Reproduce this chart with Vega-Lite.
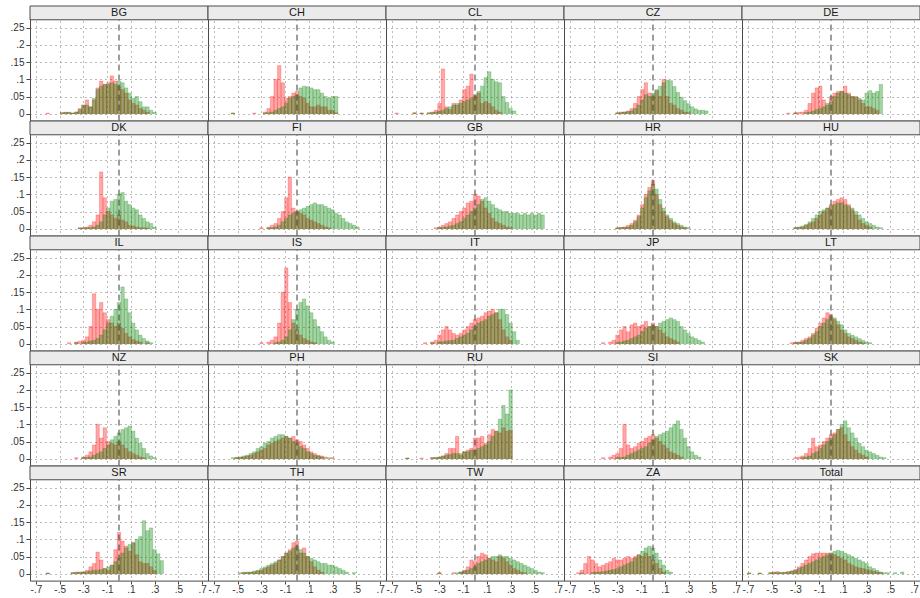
{
"$schema": "https://vega.github.io/schema/vega-lite/v6.json",
"padding": {"left": 5, "top": 5, "right": 0, "bottom": 0},
"bounds": "flush",
"data": {"values": [
{"c":"BG","x":-0.6,"r":0.002},
{"c":"BG","x":-0.48,"r":0.003,"g":0.003},
{"c":"BG","x":-0.45,"r":0.004,"g":0.004},
{"c":"BG","x":-0.42,"r":0.004,"g":0.004},
{"c":"BG","x":-0.39,"r":0.002,"g":0.002},
{"c":"BG","x":-0.36,"r":0.005,"g":0.005},
{"c":"BG","x":-0.33,"r":0.015,"g":0.012},
{"c":"BG","x":-0.3,"r":0.025,"g":0.025},
{"c":"BG","x":-0.27,"r":0.04,"g":0.025},
{"c":"BG","x":-0.24,"r":0.02,"g":0.02},
{"c":"BG","x":-0.21,"r":0.04,"g":0.045},
{"c":"BG","x":-0.18,"r":0.075,"g":0.07},
{"c":"BG","x":-0.15,"r":0.095,"g":0.08},
{"c":"BG","x":-0.12,"r":0.085,"g":0.085},
{"c":"BG","x":-0.09,"r":0.09,"g":0.085},
{"c":"BG","x":-0.06,"r":0.11,"g":0.09},
{"c":"BG","x":-0.03,"r":0.095,"g":0.085},
{"c":"BG","x":0,"r":0.08,"g":0.095},
{"c":"BG","x":0.03,"r":0.07,"g":0.09},
{"c":"BG","x":0.06,"r":0.06,"g":0.075},
{"c":"BG","x":0.09,"r":0.04,"g":0.06},
{"c":"BG","x":0.12,"r":0.03,"g":0.045},
{"c":"BG","x":0.15,"r":0.025,"g":0.05},
{"c":"BG","x":0.18,"r":0.015,"g":0.035},
{"c":"BG","x":0.21,"r":0.01,"g":0.02},
{"c":"BG","x":0.24,"r":0.005,"g":0.02},
{"c":"BG","x":0.27,"g":0.01},
{"c":"BG","x":0.3,"g":0.004},
{"c":"CH","x":-0.54,"r":0.002,"g":0.002},
{"c":"CH","x":-0.36,"r":0.002},
{"c":"CH","x":-0.27,"r":0.005,"g":0.002},
{"c":"CH","x":-0.24,"r":0.015,"g":0.003},
{"c":"CH","x":-0.21,"r":0.05,"g":0.005},
{"c":"CH","x":-0.18,"r":0.1,"g":0.01},
{"c":"CH","x":-0.15,"r":0.14,"g":0.015},
{"c":"CH","x":-0.12,"r":0.09,"g":0.02},
{"c":"CH","x":-0.09,"r":0.045,"g":0.03},
{"c":"CH","x":-0.06,"r":0.05,"g":0.045},
{"c":"CH","x":-0.03,"r":0.06,"g":0.05},
{"c":"CH","x":0,"r":0.065,"g":0.055},
{"c":"CH","x":0.03,"r":0.05,"g":0.075},
{"c":"CH","x":0.06,"r":0.045,"g":0.08},
{"c":"CH","x":0.09,"r":0.03,"g":0.078},
{"c":"CH","x":0.12,"r":0.02,"g":0.075},
{"c":"CH","x":0.15,"r":0.02,"g":0.07},
{"c":"CH","x":0.18,"r":0.025,"g":0.07},
{"c":"CH","x":0.21,"r":0.02,"g":0.06},
{"c":"CH","x":0.24,"r":0.02,"g":0.05},
{"c":"CH","x":0.27,"r":0.01,"g":0.045},
{"c":"CH","x":0.3,"r":0.01,"g":0.05},
{"c":"CH","x":0.33,"r":0.003,"g":0.05},
{"c":"CL","x":-0.66,"r":0.002},
{"c":"CL","x":-0.51,"r":0.003,"g":0.002},
{"c":"CL","x":-0.45,"r":0.002,"g":0.002},
{"c":"CL","x":-0.39,"r":0.002,"g":0.003},
{"c":"CL","x":-0.36,"r":0.005,"g":0.003},
{"c":"CL","x":-0.33,"r":0.01,"g":0.005},
{"c":"CL","x":-0.3,"r":0.03,"g":0.007},
{"c":"CL","x":-0.27,"r":0.13,"g":0.01},
{"c":"CL","x":-0.24,"r":0.02,"g":0.015},
{"c":"CL","x":-0.21,"r":0.012,"g":0.02},
{"c":"CL","x":-0.18,"r":0.03,"g":0.025},
{"c":"CL","x":-0.15,"r":0.025,"g":0.03},
{"c":"CL","x":-0.12,"r":0.04,"g":0.03},
{"c":"CL","x":-0.09,"r":0.07,"g":0.035},
{"c":"CL","x":-0.06,"r":0.08,"g":0.04},
{"c":"CL","x":-0.03,"r":0.115,"g":0.045},
{"c":"CL","x":0,"r":0.05,"g":0.055},
{"c":"CL","x":0.03,"r":0.06,"g":0.065},
{"c":"CL","x":0.06,"r":0.03,"g":0.08},
{"c":"CL","x":0.09,"r":0.035,"g":0.105},
{"c":"CL","x":0.12,"r":0.03,"g":0.122},
{"c":"CL","x":0.15,"r":0.02,"g":0.1},
{"c":"CL","x":0.18,"r":0.01,"g":0.093},
{"c":"CL","x":0.21,"r":0.005,"g":0.09},
{"c":"CL","x":0.24,"g":0.05},
{"c":"CL","x":0.27,"g":0.033},
{"c":"CL","x":0.3,"g":0.015},
{"c":"CL","x":0.33,"g":0.008},
{"c":"CZ","x":-0.3,"r":0.003,"g":0.002},
{"c":"CZ","x":-0.27,"r":0.005,"g":0.003},
{"c":"CZ","x":-0.24,"r":0.005,"g":0.005},
{"c":"CZ","x":-0.21,"r":0.008,"g":0.006},
{"c":"CZ","x":-0.18,"r":0.015,"g":0.008},
{"c":"CZ","x":-0.15,"r":0.03,"g":0.015},
{"c":"CZ","x":-0.12,"r":0.05,"g":0.025},
{"c":"CZ","x":-0.09,"r":0.07,"g":0.04},
{"c":"CZ","x":-0.06,"r":0.09,"g":0.055},
{"c":"CZ","x":-0.03,"r":0.06,"g":0.05},
{"c":"CZ","x":0,"r":0.05,"g":0.06},
{"c":"CZ","x":0.03,"r":0.067,"g":0.07},
{"c":"CZ","x":0.06,"r":0.05,"g":0.08},
{"c":"CZ","x":0.09,"r":0.1,"g":0.09},
{"c":"CZ","x":0.12,"r":0.05,"g":0.098},
{"c":"CZ","x":0.15,"r":0.03,"g":0.096},
{"c":"CZ","x":0.18,"r":0.025,"g":0.079},
{"c":"CZ","x":0.21,"r":0.015,"g":0.062},
{"c":"CZ","x":0.24,"r":0.01,"g":0.048},
{"c":"CZ","x":0.27,"r":0.005,"g":0.038},
{"c":"CZ","x":0.3,"r":0.003,"g":0.029},
{"c":"CZ","x":0.33,"g":0.02},
{"c":"CZ","x":0.36,"g":0.014},
{"c":"CZ","x":0.39,"g":0.01},
{"c":"CZ","x":0.42,"g":0.01},
{"c":"CZ","x":0.45,"g":0.008},
{"c":"DE","x":-0.36,"r":0.002},
{"c":"DE","x":-0.3,"r":0.003,"g":0.002},
{"c":"DE","x":-0.27,"r":0.004},
{"c":"DE","x":-0.24,"r":0.005},
{"c":"DE","x":-0.21,"r":0.01,"g":0.003},
{"c":"DE","x":-0.18,"r":0.03,"g":0.005},
{"c":"DE","x":-0.15,"r":0.06,"g":0.008},
{"c":"DE","x":-0.12,"r":0.075,"g":0.012},
{"c":"DE","x":-0.09,"r":0.08,"g":0.015},
{"c":"DE","x":-0.06,"r":0.04,"g":0.02},
{"c":"DE","x":-0.03,"r":0.025,"g":0.03},
{"c":"DE","x":0,"r":0.05,"g":0.035},
{"c":"DE","x":0.03,"r":0.06,"g":0.05},
{"c":"DE","x":0.06,"r":0.065,"g":0.06},
{"c":"DE","x":0.09,"r":0.065,"g":0.065},
{"c":"DE","x":0.12,"r":0.08,"g":0.06},
{"c":"DE","x":0.15,"r":0.06,"g":0.055},
{"c":"DE","x":0.18,"r":0.05,"g":0.05},
{"c":"DE","x":0.21,"r":0.05,"g":0.048},
{"c":"DE","x":0.24,"r":0.04,"g":0.045},
{"c":"DE","x":0.27,"r":0.03,"g":0.04},
{"c":"DE","x":0.3,"r":0.02,"g":0.06},
{"c":"DE","x":0.33,"r":0.02,"g":0.067},
{"c":"DE","x":0.36,"r":0.015,"g":0.06},
{"c":"DE","x":0.39,"r":0.01,"g":0.065},
{"c":"DE","x":0.42,"g":0.085},
{"c":"DK","x":-0.33,"r":0.003,"g":0.002},
{"c":"DK","x":-0.3,"r":0.003,"g":0.002},
{"c":"DK","x":-0.27,"r":0.005,"g":0.003},
{"c":"DK","x":-0.24,"r":0.01,"g":0.003},
{"c":"DK","x":-0.21,"r":0.02,"g":0.005},
{"c":"DK","x":-0.18,"r":0.04,"g":0.01},
{"c":"DK","x":-0.15,"r":0.165,"g":0.02},
{"c":"DK","x":-0.12,"r":0.09,"g":0.04},
{"c":"DK","x":-0.09,"r":0.05,"g":0.06},
{"c":"DK","x":-0.06,"r":0.04,"g":0.08},
{"c":"DK","x":-0.03,"r":0.03,"g":0.085},
{"c":"DK","x":0,"r":0.04,"g":0.1},
{"c":"DK","x":0.03,"r":0.025,"g":0.105},
{"c":"DK","x":0.06,"r":0.02,"g":0.08},
{"c":"DK","x":0.09,"r":0.01,"g":0.07},
{"c":"DK","x":0.12,"r":0.008,"g":0.06},
{"c":"DK","x":0.15,"r":0.005,"g":0.055},
{"c":"DK","x":0.18,"r":0.003,"g":0.04},
{"c":"DK","x":0.21,"r":0.003,"g":0.03},
{"c":"DK","x":0.24,"r":0.002,"g":0.02},
{"c":"DK","x":0.27,"g":0.015},
{"c":"DK","x":0.3,"g":0.005},
{"c":"FI","x":-0.3,"r":0.003},
{"c":"FI","x":-0.24,"r":0.005,"g":0.002},
{"c":"FI","x":-0.21,"r":0.01,"g":0.003},
{"c":"FI","x":-0.18,"r":0.015,"g":0.005},
{"c":"FI","x":-0.15,"r":0.03,"g":0.01},
{"c":"FI","x":-0.12,"r":0.05,"g":0.02},
{"c":"FI","x":-0.09,"r":0.09,"g":0.03},
{"c":"FI","x":-0.06,"r":0.15,"g":0.04},
{"c":"FI","x":-0.03,"r":0.06,"g":0.045},
{"c":"FI","x":0,"r":0.05,"g":0.05},
{"c":"FI","x":0.03,"r":0.045,"g":0.055},
{"c":"FI","x":0.06,"r":0.04,"g":0.06},
{"c":"FI","x":0.09,"r":0.03,"g":0.065},
{"c":"FI","x":0.12,"r":0.025,"g":0.07},
{"c":"FI","x":0.15,"r":0.02,"g":0.075},
{"c":"FI","x":0.18,"r":0.015,"g":0.07},
{"c":"FI","x":0.21,"r":0.01,"g":0.07},
{"c":"FI","x":0.24,"r":0.005,"g":0.065},
{"c":"FI","x":0.27,"r":0.003,"g":0.06},
{"c":"FI","x":0.3,"g":0.055},
{"c":"FI","x":0.33,"g":0.045},
{"c":"FI","x":0.36,"g":0.04},
{"c":"FI","x":0.39,"g":0.03},
{"c":"FI","x":0.42,"g":0.02},
{"c":"FI","x":0.45,"g":0.015},
{"c":"FI","x":0.48,"g":0.01},
{"c":"FI","x":0.51,"g":0.005},
{"c":"GB","x":-0.33,"r":0.003},
{"c":"GB","x":-0.3,"r":0.005,"g":0.003},
{"c":"GB","x":-0.27,"r":0.01,"g":0.004},
{"c":"GB","x":-0.24,"r":0.015,"g":0.005},
{"c":"GB","x":-0.21,"r":0.02,"g":0.008},
{"c":"GB","x":-0.18,"r":0.03,"g":0.01},
{"c":"GB","x":-0.15,"r":0.04,"g":0.015},
{"c":"GB","x":-0.12,"r":0.05,"g":0.02},
{"c":"GB","x":-0.09,"r":0.06,"g":0.03},
{"c":"GB","x":-0.06,"r":0.075,"g":0.04},
{"c":"GB","x":-0.03,"r":0.08,"g":0.05},
{"c":"GB","x":0,"r":0.1,"g":0.06},
{"c":"GB","x":0.03,"r":0.095,"g":0.07},
{"c":"GB","x":0.06,"r":0.08,"g":0.085},
{"c":"GB","x":0.09,"r":0.06,"g":0.09},
{"c":"GB","x":0.12,"r":0.045,"g":0.08},
{"c":"GB","x":0.15,"r":0.03,"g":0.07},
{"c":"GB","x":0.18,"r":0.02,"g":0.06},
{"c":"GB","x":0.21,"r":0.015,"g":0.055},
{"c":"GB","x":0.24,"r":0.01,"g":0.05},
{"c":"GB","x":0.27,"r":0.005,"g":0.05},
{"c":"GB","x":0.3,"r":0.003,"g":0.045},
{"c":"GB","x":0.33,"g":0.045},
{"c":"GB","x":0.36,"g":0.045},
{"c":"GB","x":0.39,"g":0.04},
{"c":"GB","x":0.42,"g":0.045},
{"c":"GB","x":0.45,"g":0.04},
{"c":"GB","x":0.48,"g":0.045},
{"c":"GB","x":0.51,"g":0.04},
{"c":"GB","x":0.54,"g":0.045},
{"c":"GB","x":0.57,"g":0.04},
{"c":"HR","x":-0.3,"r":0.003,"g":0.002},
{"c":"HR","x":-0.27,"r":0.004,"g":0.003},
{"c":"HR","x":-0.24,"r":0.005,"g":0.004},
{"c":"HR","x":-0.21,"r":0.01,"g":0.005},
{"c":"HR","x":-0.18,"r":0.015,"g":0.01},
{"c":"HR","x":-0.15,"r":0.025,"g":0.02},
{"c":"HR","x":-0.12,"r":0.04,"g":0.035},
{"c":"HR","x":-0.09,"r":0.07,"g":0.06},
{"c":"HR","x":-0.06,"r":0.1,"g":0.09},
{"c":"HR","x":-0.03,"r":0.12,"g":0.11},
{"c":"HR","x":0,"r":0.14,"g":0.13},
{"c":"HR","x":0.03,"r":0.1,"g":0.115},
{"c":"HR","x":0.06,"r":0.07,"g":0.085},
{"c":"HR","x":0.09,"r":0.05,"g":0.06},
{"c":"HR","x":0.12,"r":0.035,"g":0.04},
{"c":"HR","x":0.15,"r":0.025,"g":0.03},
{"c":"HR","x":0.18,"r":0.015,"g":0.02},
{"c":"HR","x":0.21,"r":0.01,"g":0.015},
{"c":"HR","x":0.24,"r":0.005,"g":0.01},
{"c":"HR","x":0.27,"r":0.003,"g":0.005},
{"c":"HR","x":0.3,"g":0.003},
{"c":"HU","x":-0.3,"r":0.003,"g":0.003},
{"c":"HU","x":-0.27,"r":0.004,"g":0.005},
{"c":"HU","x":-0.24,"r":0.005,"g":0.008},
{"c":"HU","x":-0.21,"r":0.01,"g":0.012},
{"c":"HU","x":-0.18,"r":0.015,"g":0.02},
{"c":"HU","x":-0.15,"r":0.02,"g":0.03},
{"c":"HU","x":-0.12,"r":0.03,"g":0.04},
{"c":"HU","x":-0.09,"r":0.04,"g":0.05},
{"c":"HU","x":-0.06,"r":0.05,"g":0.055},
{"c":"HU","x":-0.03,"r":0.06,"g":0.06},
{"c":"HU","x":0,"r":0.07,"g":0.065},
{"c":"HU","x":0.03,"r":0.08,"g":0.07},
{"c":"HU","x":0.06,"r":0.085,"g":0.075},
{"c":"HU","x":0.09,"r":0.09,"g":0.075},
{"c":"HU","x":0.12,"r":0.085,"g":0.07},
{"c":"HU","x":0.15,"r":0.07,"g":0.065},
{"c":"HU","x":0.18,"r":0.055,"g":0.06},
{"c":"HU","x":0.21,"r":0.04,"g":0.05},
{"c":"HU","x":0.24,"r":0.025,"g":0.04},
{"c":"HU","x":0.27,"r":0.015,"g":0.03},
{"c":"HU","x":0.3,"r":0.01,"g":0.02},
{"c":"HU","x":0.33,"r":0.005,"g":0.015},
{"c":"HU","x":0.36,"g":0.01},
{"c":"HU","x":0.39,"g":0.005},
{"c":"HU","x":0.42,"g":0.003},
{"c":"IL","x":-0.42,"r":0.003},
{"c":"IL","x":-0.36,"r":0.005,"g":0.003},
{"c":"IL","x":-0.33,"r":0.007},
{"c":"IL","x":-0.3,"r":0.01,"g":0.004},
{"c":"IL","x":-0.27,"r":0.02,"g":0.005},
{"c":"IL","x":-0.24,"r":0.05,"g":0.008},
{"c":"IL","x":-0.21,"r":0.145,"g":0.01},
{"c":"IL","x":-0.18,"r":0.1,"g":0.015},
{"c":"IL","x":-0.15,"r":0.12,"g":0.025},
{"c":"IL","x":-0.12,"r":0.09,"g":0.04},
{"c":"IL","x":-0.09,"r":0.07,"g":0.06},
{"c":"IL","x":-0.06,"r":0.06,"g":0.08},
{"c":"IL","x":-0.03,"r":0.05,"g":0.1},
{"c":"IL","x":0,"r":0.06,"g":0.12},
{"c":"IL","x":0.03,"r":0.045,"g":0.165},
{"c":"IL","x":0.06,"r":0.03,"g":0.13},
{"c":"IL","x":0.09,"r":0.02,"g":0.09},
{"c":"IL","x":0.12,"r":0.012,"g":0.06},
{"c":"IL","x":0.15,"r":0.008,"g":0.04},
{"c":"IL","x":0.18,"r":0.005,"g":0.025},
{"c":"IL","x":0.21,"g":0.015},
{"c":"IL","x":0.24,"r":0.003,"g":0.008},
{"c":"IL","x":0.27,"g":0.003},
{"c":"IS","x":-0.3,"r":0.003},
{"c":"IS","x":-0.24,"r":0.005},
{"c":"IS","x":-0.21,"r":0.01},
{"c":"IS","x":-0.18,"r":0.02,"g":0.003},
{"c":"IS","x":-0.15,"r":0.06,"g":0.005},
{"c":"IS","x":-0.12,"r":0.15,"g":0.01},
{"c":"IS","x":-0.09,"r":0.22,"g":0.02},
{"c":"IS","x":-0.06,"r":0.12,"g":0.04},
{"c":"IS","x":-0.03,"r":0.06,"g":0.07},
{"c":"IS","x":0,"r":0.04,"g":0.1},
{"c":"IS","x":0.03,"r":0.025,"g":0.12},
{"c":"IS","x":0.06,"r":0.015,"g":0.13},
{"c":"IS","x":0.09,"r":0.01,"g":0.11},
{"c":"IS","x":0.12,"r":0.005,"g":0.09},
{"c":"IS","x":0.15,"r":0.003,"g":0.07},
{"c":"IS","x":0.18,"g":0.05},
{"c":"IS","x":0.21,"g":0.035},
{"c":"IS","x":0.24,"g":0.02},
{"c":"IS","x":0.27,"g":0.01},
{"c":"IS","x":0.3,"g":0.005},
{"c":"IT","x":-0.42,"r":0.003},
{"c":"IT","x":-0.36,"r":0.005,"g":0.003},
{"c":"IT","x":-0.33,"r":0.01},
{"c":"IT","x":-0.3,"r":0.025,"g":0.005},
{"c":"IT","x":-0.27,"r":0.04,"g":0.006},
{"c":"IT","x":-0.24,"r":0.05,"g":0.008},
{"c":"IT","x":-0.21,"r":0.04,"g":0.009},
{"c":"IT","x":-0.18,"r":0.03,"g":0.01},
{"c":"IT","x":-0.15,"r":0.025,"g":0.015},
{"c":"IT","x":-0.12,"r":0.03,"g":0.02},
{"c":"IT","x":-0.09,"r":0.04,"g":0.025},
{"c":"IT","x":-0.06,"r":0.05,"g":0.03},
{"c":"IT","x":-0.03,"r":0.06,"g":0.04},
{"c":"IT","x":0,"r":0.07,"g":0.05},
{"c":"IT","x":0.03,"r":0.075,"g":0.06},
{"c":"IT","x":0.06,"r":0.08,"g":0.065},
{"c":"IT","x":0.09,"r":0.09,"g":0.07},
{"c":"IT","x":0.12,"r":0.095,"g":0.08},
{"c":"IT","x":0.15,"r":0.1,"g":0.085},
{"c":"IT","x":0.18,"r":0.09,"g":0.09},
{"c":"IT","x":0.21,"r":0.07,"g":0.1},
{"c":"IT","x":0.24,"r":0.04,"g":0.1},
{"c":"IT","x":0.27,"r":0.02,"g":0.085},
{"c":"IT","x":0.3,"r":0.01,"g":0.06},
{"c":"IT","x":0.33,"g":0.035},
{"c":"IT","x":0.36,"g":0.01},
{"c":"JP","x":-0.42,"r":0.003},
{"c":"JP","x":-0.36,"r":0.005},
{"c":"JP","x":-0.33,"r":0.01},
{"c":"JP","x":-0.3,"r":0.025,"g":0.003},
{"c":"JP","x":-0.27,"r":0.04,"g":0.005},
{"c":"JP","x":-0.24,"r":0.05,"g":0.008},
{"c":"JP","x":-0.21,"r":0.035,"g":0.01},
{"c":"JP","x":-0.18,"r":0.055,"g":0.015},
{"c":"JP","x":-0.15,"r":0.06,"g":0.02},
{"c":"JP","x":-0.12,"r":0.05,"g":0.025},
{"c":"JP","x":-0.09,"r":0.055,"g":0.035},
{"c":"JP","x":-0.06,"r":0.065,"g":0.045},
{"c":"JP","x":-0.03,"r":0.05,"g":0.05},
{"c":"JP","x":0,"r":0.06,"g":0.055},
{"c":"JP","x":0.03,"r":0.05,"g":0.05},
{"c":"JP","x":0.06,"r":0.04,"g":0.06},
{"c":"JP","x":0.09,"r":0.03,"g":0.065},
{"c":"JP","x":0.12,"r":0.02,"g":0.07},
{"c":"JP","x":0.15,"r":0.015,"g":0.075},
{"c":"JP","x":0.18,"r":0.01,"g":0.07},
{"c":"JP","x":0.21,"r":0.005,"g":0.065},
{"c":"JP","x":0.24,"g":0.05},
{"c":"JP","x":0.27,"g":0.04},
{"c":"JP","x":0.3,"g":0.03},
{"c":"JP","x":0.33,"g":0.02},
{"c":"JP","x":0.36,"g":0.015},
{"c":"JP","x":0.39,"g":0.01},
{"c":"JP","x":0.42,"g":0.005},
{"c":"LT","x":-0.33,"r":0.003},
{"c":"LT","x":-0.3,"r":0.004,"g":0.003},
{"c":"LT","x":-0.27,"r":0.005,"g":0.004},
{"c":"LT","x":-0.24,"r":0.01,"g":0.005},
{"c":"LT","x":-0.21,"r":0.015,"g":0.01},
{"c":"LT","x":-0.18,"r":0.02,"g":0.015},
{"c":"LT","x":-0.15,"r":0.03,"g":0.025},
{"c":"LT","x":-0.12,"r":0.045,"g":0.035},
{"c":"LT","x":-0.09,"r":0.06,"g":0.05},
{"c":"LT","x":-0.06,"r":0.075,"g":0.06},
{"c":"LT","x":-0.03,"r":0.09,"g":0.07},
{"c":"LT","x":0,"r":0.085,"g":0.08},
{"c":"LT","x":0.03,"r":0.07,"g":0.075},
{"c":"LT","x":0.06,"r":0.055,"g":0.065},
{"c":"LT","x":0.09,"r":0.04,"g":0.055},
{"c":"LT","x":0.12,"r":0.03,"g":0.04},
{"c":"LT","x":0.15,"r":0.02,"g":0.03},
{"c":"LT","x":0.18,"r":0.015,"g":0.025},
{"c":"LT","x":0.21,"r":0.01,"g":0.02},
{"c":"LT","x":0.24,"r":0.005,"g":0.015},
{"c":"LT","x":0.27,"r":0.003,"g":0.01},
{"c":"LT","x":0.3,"g":0.005},
{"c":"LT","x":0.33,"g":0.003},
{"c":"NZ","x":-0.36,"r":0.003},
{"c":"NZ","x":-0.3,"r":0.005,"g":0.003},
{"c":"NZ","x":-0.27,"r":0.01,"g":0.004},
{"c":"NZ","x":-0.24,"r":0.02,"g":0.005},
{"c":"NZ","x":-0.21,"r":0.04,"g":0.01},
{"c":"NZ","x":-0.18,"r":0.1,"g":0.015},
{"c":"NZ","x":-0.15,"r":0.06,"g":0.02},
{"c":"NZ","x":-0.12,"r":0.09,"g":0.03},
{"c":"NZ","x":-0.09,"r":0.05,"g":0.04},
{"c":"NZ","x":-0.06,"r":0.045,"g":0.055},
{"c":"NZ","x":-0.03,"r":0.04,"g":0.065},
{"c":"NZ","x":0,"r":0.05,"g":0.075},
{"c":"NZ","x":0.03,"r":0.04,"g":0.085},
{"c":"NZ","x":0.06,"r":0.03,"g":0.09},
{"c":"NZ","x":0.09,"r":0.02,"g":0.095},
{"c":"NZ","x":0.12,"r":0.015,"g":0.08},
{"c":"NZ","x":0.15,"r":0.01,"g":0.06},
{"c":"NZ","x":0.18,"r":0.005,"g":0.045},
{"c":"NZ","x":0.21,"r":0.003,"g":0.03},
{"c":"NZ","x":0.24,"g":0.015},
{"c":"NZ","x":0.27,"g":0.008},
{"c":"NZ","x":0.3,"g":0.003},
{"c":"PH","x":-0.54,"g":0.003},
{"c":"PH","x":-0.51,"r":0.003,"g":0.004},
{"c":"PH","x":-0.48,"r":0.004,"g":0.005},
{"c":"PH","x":-0.45,"r":0.005,"g":0.008},
{"c":"PH","x":-0.42,"r":0.008,"g":0.01},
{"c":"PH","x":-0.39,"r":0.01,"g":0.015},
{"c":"PH","x":-0.36,"r":0.015,"g":0.02},
{"c":"PH","x":-0.33,"r":0.02,"g":0.03},
{"c":"PH","x":-0.3,"r":0.025,"g":0.035},
{"c":"PH","x":-0.27,"r":0.03,"g":0.045},
{"c":"PH","x":-0.24,"r":0.04,"g":0.05},
{"c":"PH","x":-0.21,"r":0.045,"g":0.06},
{"c":"PH","x":-0.18,"r":0.05,"g":0.065},
{"c":"PH","x":-0.15,"r":0.055,"g":0.07},
{"c":"PH","x":-0.12,"r":0.06,"g":0.07},
{"c":"PH","x":-0.09,"r":0.065,"g":0.065},
{"c":"PH","x":-0.06,"r":0.06,"g":0.06},
{"c":"PH","x":-0.03,"r":0.065,"g":0.05},
{"c":"PH","x":0,"r":0.055,"g":0.045},
{"c":"PH","x":0.03,"r":0.05,"g":0.035},
{"c":"PH","x":0.06,"r":0.04,"g":0.03},
{"c":"PH","x":0.09,"r":0.03,"g":0.02},
{"c":"PH","x":0.12,"r":0.02,"g":0.015},
{"c":"PH","x":0.15,"r":0.015,"g":0.01},
{"c":"PH","x":0.18,"r":0.01,"g":0.008},
{"c":"PH","x":0.21,"r":0.008,"g":0.005},
{"c":"PH","x":0.24,"r":0.005},
{"c":"PH","x":0.27,"g":0.003},
{"c":"PH","x":0.3,"r":0.003},
{"c":"RU","x":-0.57,"r":0.002,"g":0.002},
{"c":"RU","x":-0.45,"r":0.002},
{"c":"RU","x":-0.36,"r":0.003,"g":0.003},
{"c":"RU","x":-0.33,"r":0.003,"g":0.004},
{"c":"RU","x":-0.3,"r":0.004,"g":0.005},
{"c":"RU","x":-0.27,"r":0.008,"g":0.008},
{"c":"RU","x":-0.24,"r":0.015,"g":0.01},
{"c":"RU","x":-0.21,"r":0.03,"g":0.012},
{"c":"RU","x":-0.18,"r":0.03,"g":0.015},
{"c":"RU","x":-0.15,"r":0.065,"g":0.015},
{"c":"RU","x":-0.12,"r":0.01,"g":0.015},
{"c":"RU","x":-0.09,"r":0.02,"g":0.02},
{"c":"RU","x":-0.06,"r":0.025,"g":0.02},
{"c":"RU","x":-0.03,"r":0.03,"g":0.025},
{"c":"RU","x":0,"r":0.06,"g":0.025},
{"c":"RU","x":0.03,"r":0.06,"g":0.03},
{"c":"RU","x":0.06,"r":0.065,"g":0.035},
{"c":"RU","x":0.09,"r":0.045,"g":0.04},
{"c":"RU","x":0.12,"r":0.07,"g":0.05},
{"c":"RU","x":0.15,"r":0.085,"g":0.065},
{"c":"RU","x":0.18,"r":0.08,"g":0.08},
{"c":"RU","x":0.21,"r":0.075,"g":0.115},
{"c":"RU","x":0.24,"r":0.09,"g":0.155},
{"c":"RU","x":0.27,"r":0.08,"g":0.13},
{"c":"RU","x":0.3,"r":0.083,"g":0.2},
{"c":"SI","x":-0.42,"r":0.003},
{"c":"SI","x":-0.36,"r":0.005},
{"c":"SI","x":-0.33,"r":0.01},
{"c":"SI","x":-0.3,"r":0.015,"g":0.003},
{"c":"SI","x":-0.27,"r":0.03,"g":0.004},
{"c":"SI","x":-0.24,"r":0.1,"g":0.005},
{"c":"SI","x":-0.21,"r":0.04,"g":0.01},
{"c":"SI","x":-0.18,"r":0.03,"g":0.015},
{"c":"SI","x":-0.15,"r":0.035,"g":0.02},
{"c":"SI","x":-0.12,"r":0.045,"g":0.025},
{"c":"SI","x":-0.09,"r":0.05,"g":0.03},
{"c":"SI","x":-0.06,"r":0.06,"g":0.035},
{"c":"SI","x":-0.03,"r":0.065,"g":0.045},
{"c":"SI","x":0,"r":0.07,"g":0.055},
{"c":"SI","x":0.03,"r":0.06,"g":0.065},
{"c":"SI","x":0.06,"r":0.05,"g":0.07},
{"c":"SI","x":0.09,"r":0.04,"g":0.075},
{"c":"SI","x":0.12,"r":0.03,"g":0.08},
{"c":"SI","x":0.15,"r":0.02,"g":0.09},
{"c":"SI","x":0.18,"r":0.015,"g":0.1},
{"c":"SI","x":0.21,"r":0.01,"g":0.11},
{"c":"SI","x":0.24,"r":0.005,"g":0.085},
{"c":"SI","x":0.27,"g":0.06},
{"c":"SI","x":0.3,"g":0.035},
{"c":"SI","x":0.33,"g":0.02},
{"c":"SI","x":0.36,"g":0.01},
{"c":"SI","x":0.39,"g":0.005},
{"c":"SK","x":-0.3,"r":0.003},
{"c":"SK","x":-0.27,"r":0.005},
{"c":"SK","x":-0.24,"r":0.008,"g":0.003},
{"c":"SK","x":-0.21,"r":0.015,"g":0.005},
{"c":"SK","x":-0.18,"r":0.03,"g":0.008},
{"c":"SK","x":-0.15,"r":0.06,"g":0.015},
{"c":"SK","x":-0.12,"r":0.035,"g":0.02},
{"c":"SK","x":-0.09,"r":0.04,"g":0.03},
{"c":"SK","x":-0.06,"r":0.05,"g":0.04},
{"c":"SK","x":-0.03,"r":0.06,"g":0.05},
{"c":"SK","x":0,"r":0.07,"g":0.06},
{"c":"SK","x":0.03,"r":0.075,"g":0.07},
{"c":"SK","x":0.06,"r":0.085,"g":0.085},
{"c":"SK","x":0.09,"r":0.09,"g":0.1},
{"c":"SK","x":0.12,"r":0.07,"g":0.11},
{"c":"SK","x":0.15,"r":0.05,"g":0.09},
{"c":"SK","x":0.18,"r":0.035,"g":0.075},
{"c":"SK","x":0.21,"r":0.025,"g":0.06},
{"c":"SK","x":0.24,"r":0.015,"g":0.045},
{"c":"SK","x":0.27,"r":0.01,"g":0.035},
{"c":"SK","x":0.3,"r":0.005,"g":0.025},
{"c":"SK","x":0.33,"g":0.02},
{"c":"SK","x":0.36,"g":0.015},
{"c":"SK","x":0.39,"g":0.01},
{"c":"SK","x":0.42,"g":0.005},
{"c":"SK","x":0.45,"g":0.003},
{"c":"SR","x":-0.6,"r":0.002,"g":0.002},
{"c":"SR","x":-0.39,"r":0.003,"g":0.003},
{"c":"SR","x":-0.36,"r":0.004,"g":0.004},
{"c":"SR","x":-0.33,"r":0.005,"g":0.004},
{"c":"SR","x":-0.3,"r":0.005,"g":0.005},
{"c":"SR","x":-0.27,"r":0.01,"g":0.006},
{"c":"SR","x":-0.24,"r":0.02,"g":0.008},
{"c":"SR","x":-0.21,"r":0.03,"g":0.01},
{"c":"SR","x":-0.18,"r":0.063,"g":0.01},
{"c":"SR","x":-0.15,"r":0.04,"g":0.012},
{"c":"SR","x":-0.12,"r":0.015,"g":0.015},
{"c":"SR","x":-0.09,"r":0.01,"g":0.02},
{"c":"SR","x":-0.06,"r":0.025,"g":0.025},
{"c":"SR","x":-0.03,"r":0.07,"g":0.035},
{"c":"SR","x":0,"r":0.12,"g":0.045},
{"c":"SR","x":0.03,"r":0.095,"g":0.06},
{"c":"SR","x":0.06,"r":0.08,"g":0.075},
{"c":"SR","x":0.09,"r":0.065,"g":0.085},
{"c":"SR","x":0.12,"r":0.09,"g":0.09},
{"c":"SR","x":0.15,"r":0.055,"g":0.1},
{"c":"SR","x":0.18,"r":0.035,"g":0.108},
{"c":"SR","x":0.21,"r":0.03,"g":0.154},
{"c":"SR","x":0.24,"r":0.03,"g":0.125},
{"c":"SR","x":0.27,"r":0.02,"g":0.133},
{"c":"SR","x":0.3,"r":0.01,"g":0.07},
{"c":"SR","x":0.33,"g":0.058},
{"c":"SR","x":0.36,"g":0.038},
{"c":"TH","x":-0.48,"g":0.003},
{"c":"TH","x":-0.45,"r":0.003,"g":0.004},
{"c":"TH","x":-0.42,"r":0.003,"g":0.005},
{"c":"TH","x":-0.39,"r":0.004,"g":0.005},
{"c":"TH","x":-0.36,"r":0.005,"g":0.008},
{"c":"TH","x":-0.33,"r":0.008,"g":0.01},
{"c":"TH","x":-0.3,"r":0.01,"g":0.015},
{"c":"TH","x":-0.27,"r":0.015,"g":0.02},
{"c":"TH","x":-0.24,"r":0.02,"g":0.025},
{"c":"TH","x":-0.21,"r":0.025,"g":0.03},
{"c":"TH","x":-0.18,"r":0.03,"g":0.035},
{"c":"TH","x":-0.15,"r":0.04,"g":0.04},
{"c":"TH","x":-0.12,"r":0.05,"g":0.05},
{"c":"TH","x":-0.09,"r":0.06,"g":0.06},
{"c":"TH","x":-0.06,"r":0.07,"g":0.065},
{"c":"TH","x":-0.03,"r":0.09,"g":0.075},
{"c":"TH","x":0,"r":0.095,"g":0.08},
{"c":"TH","x":0.03,"r":0.06,"g":0.07},
{"c":"TH","x":0.06,"r":0.075,"g":0.06},
{"c":"TH","x":0.09,"r":0.05,"g":0.05},
{"c":"TH","x":0.12,"r":0.035,"g":0.045},
{"c":"TH","x":0.15,"r":0.02,"g":0.04},
{"c":"TH","x":0.18,"r":0.01,"g":0.035},
{"c":"TH","x":0.21,"r":0.005,"g":0.03},
{"c":"TH","x":0.24,"g":0.03},
{"c":"TH","x":0.27,"g":0.025},
{"c":"TH","x":0.3,"g":0.025},
{"c":"TH","x":0.33,"g":0.02},
{"c":"TH","x":0.36,"g":0.015},
{"c":"TH","x":0.39,"g":0.01},
{"c":"TH","x":0.42,"g":0.005},
{"c":"TH","x":0.48,"g":0.003},
{"c":"TW","x":-0.3,"r":0.003,"g":0.002},
{"c":"TW","x":-0.18,"r":0.003},
{"c":"TW","x":-0.15,"g":0.003},
{"c":"TW","x":-0.12,"r":0.005,"g":0.005},
{"c":"TW","x":-0.09,"r":0.01,"g":0.008},
{"c":"TW","x":-0.06,"r":0.02,"g":0.01},
{"c":"TW","x":-0.03,"r":0.04,"g":0.015},
{"c":"TW","x":0,"r":0.035,"g":0.02},
{"c":"TW","x":0.03,"r":0.05,"g":0.03},
{"c":"TW","x":0.06,"r":0.06,"g":0.035},
{"c":"TW","x":0.09,"r":0.055,"g":0.04},
{"c":"TW","x":0.12,"r":0.045,"g":0.045},
{"c":"TW","x":0.15,"r":0.04,"g":0.05},
{"c":"TW","x":0.18,"r":0.035,"g":0.05},
{"c":"TW","x":0.21,"r":0.05,"g":0.055},
{"c":"TW","x":0.24,"r":0.045,"g":0.05},
{"c":"TW","x":0.27,"r":0.035,"g":0.05},
{"c":"TW","x":0.3,"r":0.025,"g":0.045},
{"c":"TW","x":0.33,"r":0.015,"g":0.04},
{"c":"TW","x":0.36,"r":0.01,"g":0.035},
{"c":"TW","x":0.39,"r":0.005,"g":0.03},
{"c":"TW","x":0.42,"r":0.003,"g":0.025},
{"c":"TW","x":0.45,"g":0.02},
{"c":"TW","x":0.48,"g":0.015},
{"c":"TW","x":0.51,"g":0.01},
{"c":"TW","x":0.54,"g":0.005},
{"c":"TW","x":0.57,"g":0.003},
{"c":"ZA","x":-0.63,"r":0.003},
{"c":"ZA","x":-0.6,"r":0.01,"g":0.002},
{"c":"ZA","x":-0.57,"r":0.03},
{"c":"ZA","x":-0.54,"r":0.05},
{"c":"ZA","x":-0.51,"r":0.04,"g":0.003},
{"c":"ZA","x":-0.48,"r":0.03,"g":0.004},
{"c":"ZA","x":-0.45,"r":0.02,"g":0.005},
{"c":"ZA","x":-0.42,"r":0.025,"g":0.006},
{"c":"ZA","x":-0.39,"r":0.03,"g":0.008},
{"c":"ZA","x":-0.36,"r":0.035,"g":0.01},
{"c":"ZA","x":-0.33,"r":0.045,"g":0.012},
{"c":"ZA","x":-0.3,"r":0.04,"g":0.015},
{"c":"ZA","x":-0.27,"r":0.04,"g":0.02},
{"c":"ZA","x":-0.24,"r":0.045,"g":0.025},
{"c":"ZA","x":-0.21,"r":0.05,"g":0.03},
{"c":"ZA","x":-0.18,"r":0.045,"g":0.035},
{"c":"ZA","x":-0.15,"r":0.05,"g":0.045},
{"c":"ZA","x":-0.12,"r":0.055,"g":0.055},
{"c":"ZA","x":-0.09,"r":0.05,"g":0.065},
{"c":"ZA","x":-0.06,"r":0.06,"g":0.075},
{"c":"ZA","x":-0.03,"r":0.05,"g":0.08},
{"c":"ZA","x":0,"r":0.04,"g":0.075},
{"c":"ZA","x":0.03,"r":0.03,"g":0.06},
{"c":"ZA","x":0.06,"r":0.015,"g":0.04},
{"c":"ZA","x":0.09,"r":0.005,"g":0.025},
{"c":"ZA","x":0.12,"g":0.01},
{"c":"ZA","x":0.15,"g":0.005},
{"c":"Total","x":-0.69,"r":0.002,"g":0.002},
{"c":"Total","x":-0.6,"r":0.002,"g":0.002},
{"c":"Total","x":-0.51,"r":0.003,"g":0.003},
{"c":"Total","x":-0.48,"r":0.005,"g":0.003},
{"c":"Total","x":-0.45,"r":0.006,"g":0.003},
{"c":"Total","x":-0.42,"r":0.003,"g":0.004},
{"c":"Total","x":-0.39,"r":0.004,"g":0.004},
{"c":"Total","x":-0.36,"r":0.006,"g":0.005},
{"c":"Total","x":-0.33,"r":0.008,"g":0.008},
{"c":"Total","x":-0.3,"r":0.012,"g":0.01},
{"c":"Total","x":-0.27,"r":0.02,"g":0.015},
{"c":"Total","x":-0.24,"r":0.03,"g":0.02},
{"c":"Total","x":-0.21,"r":0.04,"g":0.025},
{"c":"Total","x":-0.18,"r":0.05,"g":0.03},
{"c":"Total","x":-0.15,"r":0.058,"g":0.035},
{"c":"Total","x":-0.12,"r":0.06,"g":0.04},
{"c":"Total","x":-0.09,"r":0.06,"g":0.045},
{"c":"Total","x":-0.06,"r":0.06,"g":0.05},
{"c":"Total","x":-0.03,"r":0.06,"g":0.055},
{"c":"Total","x":0,"r":0.06,"g":0.06},
{"c":"Total","x":0.03,"r":0.055,"g":0.065},
{"c":"Total","x":0.06,"r":0.05,"g":0.068},
{"c":"Total","x":0.09,"r":0.045,"g":0.065},
{"c":"Total","x":0.12,"r":0.04,"g":0.06},
{"c":"Total","x":0.15,"r":0.03,"g":0.055},
{"c":"Total","x":0.18,"r":0.025,"g":0.05},
{"c":"Total","x":0.21,"r":0.02,"g":0.045},
{"c":"Total","x":0.24,"r":0.017,"g":0.04},
{"c":"Total","x":0.27,"r":0.015,"g":0.035},
{"c":"Total","x":0.3,"r":0.012,"g":0.03},
{"c":"Total","x":0.33,"r":0.01,"g":0.02},
{"c":"Total","x":0.36,"r":0.007,"g":0.015},
{"c":"Total","x":0.39,"r":0.005,"g":0.01},
{"c":"Total","x":0.42,"r":0.003,"g":0.005},
{"c":"Total","x":0.45,"g":0.003},
{"c":"Total","x":0.48,"g":0.003},
{"c":"Total","x":0.54,"g":0.003},
{"c":"Total","x":0.6,"g":0.005}
]},
"transform": [
  {"lookup": "c", "from": {"data": {"values": [
    {"c":"BG","rw":1,"cl":1},{"c":"CH","rw":1,"cl":2},{"c":"CL","rw":1,"cl":3},{"c":"CZ","rw":1,"cl":4},{"c":"DE","rw":1,"cl":5},
    {"c":"DK","rw":2,"cl":1},{"c":"FI","rw":2,"cl":2},{"c":"GB","rw":2,"cl":3},{"c":"HR","rw":2,"cl":4},{"c":"HU","rw":2,"cl":5},
    {"c":"IL","rw":3,"cl":1},{"c":"IS","rw":3,"cl":2},{"c":"IT","rw":3,"cl":3},{"c":"JP","rw":3,"cl":4},{"c":"LT","rw":3,"cl":5},
    {"c":"NZ","rw":4,"cl":1},{"c":"PH","rw":4,"cl":2},{"c":"RU","rw":4,"cl":3},{"c":"SI","rw":4,"cl":4},{"c":"SK","rw":4,"cl":5},
    {"c":"SR","rw":5,"cl":1},{"c":"TH","rw":5,"cl":2},{"c":"TW","rw":5,"cl":3},{"c":"ZA","rw":5,"cl":4},{"c":"Total","rw":5,"cl":5}
  ]}, "key": "c", "fields": ["rw", "cl"]}}
],
"facet": {
  "row": {"field": "rw", "type": "ordinal", "header": {"labels": false, "title": null}},
  "column": {"field": "cl", "type": "ordinal", "header": {"labels": false, "title": null}}
},
"spacing": 0,
"spec": {
  "width": 178,
  "height": 114.6,
  "layer": [
    {"mark": {"type": "bar", "width": 3.4, "fill": "#ff0000", "fillOpacity": 0.35, "stroke": "#ff0000", "strokeOpacity": 0.45, "strokeWidth": 0.5, "invalid": "filter"},
     "encoding": {
       "x": {"field": "x", "type": "quantitative",
             "scale": {"domain": [-0.75, 0.75], "nice": false, "zero": false, "padding": 0},
             "axis": {"values": [-0.7,-0.5,-0.3,-0.1,0.1,0.3,0.5,0.7], "tickCount": 40, "labelExpr": "replace('' + datum.value, '0.', '.')", "labelOverlap": false, "labelPadding": 0, "tickSize": 3, "labelFlush": false, "labelBound": false}},
       "y": {"field": "r", "type": "quantitative",
             "scale": {"domain": [-0.02, 0.313], "nice": false, "zero": false, "padding": 0},
             "axis": {"values": [0,0.05,0.1,0.15,0.2,0.25], "tickCount": 40, "labelExpr": "replace('' + datum.value, '0.', '.')", "labelOverlap": false, "labelFlush": false, "labelBound": false}}
     }},
    {"mark": {"type": "bar", "width": 3.4, "fill": "#008000", "fillOpacity": 0.35, "stroke": "#008000", "strokeOpacity": 0.45, "strokeWidth": 0.5, "invalid": "filter"},
     "encoding": {
       "x": {"field": "x", "type": "quantitative"},
       "y": {"field": "g", "type": "quantitative"}
     }},
    {"transform": [{"aggregate": [{"op": "count", "as": "n"}], "groupby": ["c", "rw", "cl"]}],
     "mark": {"type": "rule", "color": "#3a3a3a", "strokeDash": [6, 4], "strokeWidth": 1},
     "encoding": {"x": {"datum": 0}, "y": {"datum": -0.02}, "y2": {"datum": 0.273}}},
    {"transform": [{"aggregate": [{"op": "count", "as": "n"}], "groupby": ["c", "rw", "cl"]}],
     "mark": {"type": "rect", "fill": "#ebebeb", "stroke": "#4a4a4a", "strokeWidth": 1},
     "encoding": {"x": {"datum": -0.75}, "x2": {"datum": 0.75}, "y": {"datum": 0.273}, "y2": {"datum": 0.313}}},
    {"transform": [{"aggregate": [{"op": "count", "as": "n"}], "groupby": ["c", "rw", "cl"]}],
     "mark": {"type": "text", "font": "Liberation Sans", "fontSize": 11, "color": "#1a1a1a", "baseline": "middle", "align": "center"},
     "encoding": {"x": {"datum": 0}, "y": {"datum": 0.293}, "text": {"field": "c"}}}
  ]
},
"config": {
  "font": "Liberation Sans",
  "view": {"stroke": "#4a4a4a", "strokeWidth": 1},
  "axis": {"title": null, "domain": false, "grid": true, "gridColor": "#777777", "gridDash": [1, 4], "gridWidth": 1, "labelOverlap": false,
           "labelFont": "Liberation Sans", "labelFontSize": 10, "labelColor": "#333333", "tickColor": "#444444", "tickSize": 4, "labelPadding": 2},
  "axisY": {"minExtent": 25, "maxExtent": 25}
}
}
